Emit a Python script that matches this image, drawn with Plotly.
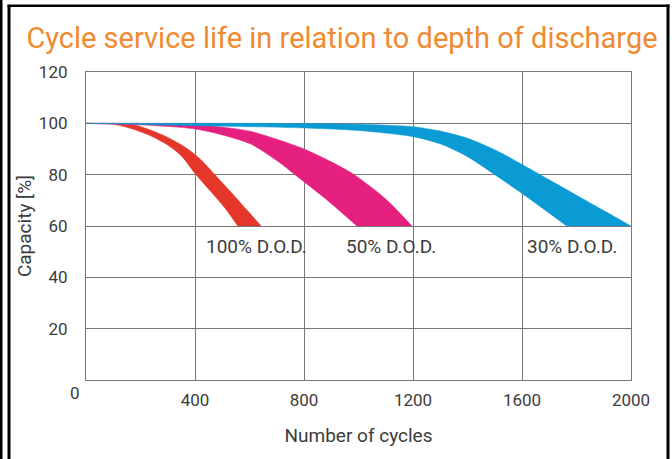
import plotly.graph_objects as go

W, H = 672, 459
L, R, T, B = 86, 41, 72, 79

# Data (cycles, capacity %)
red_upper_x = [0, 170, 236, 300, 367, 420, 473, 538, 590, 643]
red_upper_y = [100, 99.5, 97.4, 94.5, 90.5, 86.0, 80.0, 72.5, 66.3, 60]
red_lower_x = [0, 105, 170, 236, 302, 350, 400, 459, 511, 557]
red_lower_y = [100, 99.5, 97.8, 95.2, 91.4, 87.3, 80.5, 73.3, 66.8, 60]

pink_upper_x = [0, 300, 500, 603, 700, 800, 900, 984, 1100, 1196]
pink_upper_y = [100, 99.8, 98.5, 96.9, 93.8, 90.0, 85.0, 80.0, 70.5, 60]
pink_lower_x = [0, 200, 400, 500, 603, 700, 767, 880, 994]
pink_lower_y = [100, 99.4, 97.8, 95.5, 92.0, 85.5, 80.0, 70.5, 60]

blue_upper_x = [0, 600, 800, 1000, 1100, 1200, 1300, 1400, 1500, 1600, 1700, 1800, 1900, 2000]
blue_upper_y = [100, 100, 99.9, 99.6, 99.3, 98.7, 97.0, 94.2, 89.7, 84.0, 78.0, 72.0, 66.0, 60]
blue_lower_x = [0, 400, 800, 1000, 1200, 1300, 1400, 1500, 1600, 1700, 1764]
blue_lower_y = [100, 99.1, 98.2, 97.2, 94.8, 92.0, 87.0, 80.0, 72.7, 65.0, 60]

x_ticks = [400, 800, 1200, 1600, 2000]
y_ticks = [20, 40, 60, 80, 100, 120]

labels = ["100% D.O.D.", "50% D.O.D.", "30% D.O.D."]
label_x = [627, 1119, 1783]
label_y = [52, 52, 52]

RED, PINK, BLUE = "#E5362B", "#E5207F", "#0A9BD4"
ORANGE = "#F08A30"
TXT = "#3c3c3c"
GRID = "#777777"
FONT = "Roboto"

fig = go.Figure()
for (ux, uy, lx, ly, c) in [
    (red_upper_x, red_upper_y, red_lower_x, red_lower_y, RED),
    (pink_upper_x, pink_upper_y, pink_lower_x, pink_lower_y, PINK),
    (blue_upper_x, blue_upper_y, blue_lower_x, blue_lower_y, BLUE),
]:
    fig.add_trace(go.Scatter(x=lx, y=ly, mode="lines",
                             line=dict(width=0.5, color=c, shape="spline", smoothing=0.8),
                             hoverinfo="skip", showlegend=False))
    fig.add_trace(go.Scatter(x=ux, y=uy, mode="lines", fill="tonexty", fillcolor=c,
                             line=dict(width=0.5, color=c, shape="spline", smoothing=0.8),
                             hoverinfo="skip", showlegend=False))

for t, x, y in zip(labels, label_x, label_y):
    fig.add_annotation(x=x, y=y, text=t, showarrow=False, xref="x", yref="y",
                       xanchor="center", yanchor="middle",
                       font=dict(family=FONT, size=19, color=TXT))

pw, ph = W - L - R, H - T - B


def px(x):
    return (x - L) / pw


def py(y):
    return 1 - (y - T) / ph


# origin label
fig.add_annotation(x=px(75), y=py(393), xref="paper", yref="paper", text="0",
                   xanchor="center", yanchor="middle",
                   showarrow=False, font=dict(family=FONT, size=17, color=TXT))

# frame
frame = [
    (0, 0, 2.5, H),
    (7.5, 5, 10.5, H),
    (7.5, 4.5, 669.5, 7),
    (666.5, 4.5, 669.5, H),
]
for x0, y0, x1, y1 in frame:
    fig.add_shape(type="rect", xref="paper", yref="paper", x0=px(x0), x1=px(x1),
                  y0=py(y1), y1=py(y0), fillcolor="black", line=dict(width=0), layer="above")

fig.update_layout(
    width=W, height=H,
    margin=dict(l=L, r=R, t=T, b=B),
    paper_bgcolor="white", plot_bgcolor="white",
    title=dict(text="Cycle service life in relation to depth of discharge",
               x=342 / W, xanchor="center", y=1 - 38 / H, yanchor="middle",
               xref="container", yref="container",
               font=dict(family=FONT, size=29, color=ORANGE)),
    font=dict(family=FONT, color=TXT, size=17),
)
fig.update_xaxes(range=[0, 2000], tickvals=x_ticks, showgrid=True, gridcolor=GRID, gridwidth=1.2,
                 showline=True, linecolor=GRID, linewidth=1.2, mirror=True, zeroline=False,
                 ticks="", ticklabelstandoff=4, tickfont=dict(size=17, color=TXT),
                 automargin=False,
                 title=dict(text="Number of cycles", standoff=20, font=dict(size=19, color=TXT)))
fig.update_yaxes(range=[0, 120], tickvals=y_ticks, showgrid=True, gridcolor=GRID, gridwidth=1.2,
                 showline=True, linecolor=GRID, linewidth=1.2, mirror=True, zeroline=False,
                 ticks="", ticklabelstandoff=14, tickfont=dict(size=17, color=TXT),
                 automargin=False,
                 title=dict(text="Capacity [%]", standoff=2, font=dict(size=19, color=TXT)))

fig.write_html("out.html", config={"displayModeBar": False},
               post_script="document.body.style.margin='0';document.body.style.overflow='hidden';")
